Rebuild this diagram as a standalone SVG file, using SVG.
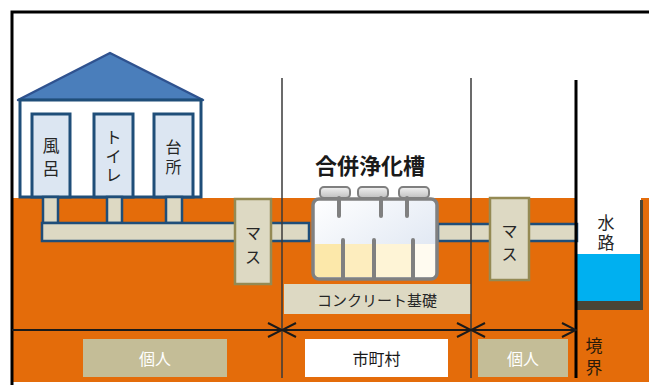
<svg xmlns="http://www.w3.org/2000/svg" width="649" height="385" viewBox="0 0 649 385">
  <defs>
    <style>
      .t { font-family: "Noto Sans CJK JP", "Noto Sans", sans-serif; text-anchor: middle; dominant-baseline: central; }
      .room { fill: #DCE6F2; stroke: #1F4E79; stroke-width: 3; }
      .pipe { fill: #DDD9C3; stroke: #1F4E79; stroke-width: 2.5; }
      .mass { fill: #DDD9C3; stroke: #948A54; stroke-width: 2.5; }
      .lid { fill: url(#lidGrad); stroke: #7F7F7F; stroke-width: 2; }
      .wall { fill: none; stroke: #808080; stroke-width: 4; stroke-linecap: round; }
      .div { stroke: #3A3A3A; stroke-width: 1.5; }
      .dim { stroke: #1A1A1A; stroke-width: 2; fill: none; }
      .tag { fill: #C4BD97; }
    </style>
    <linearGradient id="upperGrad" x1="0" y1="0" x2="1" y2="1">
      <stop offset="0" stop-color="#FFFFFF"/>
      <stop offset="1" stop-color="#D9E2F0"/>
    </linearGradient>
    <linearGradient id="lidGrad" x1="0" y1="0" x2="0" y2="1">
      <stop offset="0" stop-color="#F2F2F2"/>
      <stop offset="1" stop-color="#BFBFBF"/>
    </linearGradient>
    <marker id="arrow" markerUnits="userSpaceOnUse" viewBox="0 0 16 16" refX="15" refY="8" markerWidth="16" markerHeight="16" orient="auto-start-reverse">
      <path d="M1,1 L15,8 L1,15" fill="none" stroke="#1A1A1A" stroke-width="2"/>
    </marker>
  </defs>

  <rect width="649" height="385" fill="#FFFFFF"/>

  <!-- ground -->
  <rect id="ground" x="12" y="198" width="637" height="184" fill="#E46C0A"/>

  <!-- water channel -->
  <g id="channel">
    <rect x="577" y="197" width="64" height="58" fill="#FFFFFF"/>
    <rect x="577" y="254" width="64" height="48" fill="#00B0F0"/>
    <rect x="577" y="301" width="66" height="9" fill="#4A4535"/>
    <line x1="641.5" y1="200" x2="641.5" y2="310" stroke="#4A4535" stroke-width="3"/>
    <text class="t" x="606" y="221" font-size="17" fill="#262626">水</text>
    <text class="t" x="606" y="241" font-size="17" fill="#262626">路</text>
  </g>

  <!-- house -->
  <g id="house">
    <polygon points="18,100 110,53 203,100" fill="#4A7EBB" stroke="#2F528F" stroke-width="2.5" stroke-linejoin="round"/>
    <rect x="20" y="100" width="181" height="97" fill="#FFFFFF" stroke="#1F4E79" stroke-width="3"/>
  </g>
  <g id="bath">
    <rect class="room" x="32" y="114" width="38" height="83"/>
    <text class="t" x="51" y="144" font-size="17" fill="#262626">風</text>
    <text class="t" x="51" y="167" font-size="17" fill="#262626">呂</text>
  </g>
  <g id="toilet">
    <rect class="room" x="94" y="114" width="39" height="83"/>
    <text class="t" x="113.5" y="136" font-size="16" fill="#262626">ト</text>
    <text class="t" x="113.5" y="155" font-size="16" fill="#262626">イ</text>
    <text class="t" x="113.5" y="174" font-size="16" fill="#262626">レ</text>
  </g>
  <g id="kitchen">
    <rect class="room" x="154" y="114" width="39" height="83"/>
    <text class="t" x="173.5" y="146" font-size="16" fill="#262626">台</text>
    <text class="t" x="173.5" y="166" font-size="16" fill="#262626">所</text>
  </g>

  <!-- drain pipes -->
  <g id="pipes">
    <rect class="pipe" x="43" y="197" width="15" height="26"/>
    <rect class="pipe" x="107" y="197" width="15" height="26"/>
    <rect class="pipe" x="166" y="197" width="16" height="26"/>
    <rect class="pipe" x="42" y="223" width="267" height="18"/>
    <rect class="pipe" x="438" y="224" width="139" height="17"/>
  </g>

  <!-- inspection pits -->
  <g id="mass1">
    <rect class="mass" x="235" y="199" width="36" height="85"/>
    <text class="t" x="253" y="232" font-size="16" fill="#262626">マ</text>
    <text class="t" x="253" y="256" font-size="16" fill="#262626">ス</text>
  </g>
  <g id="mass2">
    <rect class="mass" x="490" y="198" width="39" height="82"/>
    <text class="t" x="509.5" y="230" font-size="16" fill="#262626">マ</text>
    <text class="t" x="509.5" y="253" font-size="16" fill="#262626">ス</text>
  </g>

  <!-- concrete foundation -->
  <g id="foundation">
    <rect x="284" y="284" width="187" height="30" fill="#DDD9C3"/>
    <text class="t" x="377" y="299" font-size="15" fill="#262626">コンクリート基礎</text>
  </g>

  <!-- septic tank -->
  <g id="tank">
    <text class="t" x="370" y="164" font-size="22" font-weight="bold" fill="#1A1A1A">合併浄化槽</text>
    <rect class="lid" x="320" y="187" width="30" height="11" rx="4"/>
    <rect class="lid" x="358" y="187" width="30" height="11" rx="4"/>
    <rect class="lid" x="399" y="187" width="30" height="11" rx="4"/>
    <rect x="313" y="199" width="124" height="80" rx="6" fill="url(#upperGrad)"/>
    <rect x="315" y="244" width="28" height="33" fill="#FCE8AA"/>
    <rect x="343" y="244" width="31" height="33" fill="#FDEDBE"/>
    <rect x="374" y="244" width="39" height="33" fill="#FEF4D6"/>
    <rect x="413" y="244" width="22" height="33" fill="#FFFBF0"/>
    <path class="wall" d="M339,198 V216 M381,198 V216 M407,198 V216"/>
    <path class="wall" d="M343,240 V278 M374,240 V278 M413,240 V278"/>
    <rect x="313" y="199" width="124" height="80" rx="6" fill="none" stroke="#808080" stroke-width="3.5"/>
  </g>

  <!-- frame -->
  <path id="frame" d="M12,385 V12 H649" fill="none" stroke="#000000" stroke-width="3"/>

  <!-- boundaries and dimension lines -->
  <g id="connectors">
    <line class="div" x1="282" y1="78" x2="282" y2="378"/>
    <line class="div" x1="471" y1="78" x2="471" y2="378"/>
    <line x1="576" y1="80" x2="576" y2="378" stroke="#000000" stroke-width="3"/>
    <line class="dim" x1="12" y1="330" x2="282" y2="330" marker-end="url(#arrow)"/>
    <line class="dim" x1="282" y1="330" x2="471" y2="330" marker-start="url(#arrow)" marker-end="url(#arrow)"/>
    <line class="dim" x1="471" y1="330" x2="576" y2="330" marker-start="url(#arrow)" marker-end="url(#arrow)"/>
  </g>

  <!-- ownership labels -->
  <g id="private1">
    <rect class="tag" x="83" y="339" width="144" height="38"/>
    <text class="t" x="155" y="358" font-size="16" fill="#FFFFFF">個人</text>
  </g>
  <g id="municipal">
    <rect x="305" y="339" width="143" height="38" fill="#FFFFFF"/>
    <text class="t" x="376.5" y="358" font-size="16" fill="#1A1A1A">市町村</text>
  </g>
  <g id="private2">
    <rect class="tag" x="478" y="339" width="90" height="38"/>
    <text class="t" x="523" y="358" font-size="16" fill="#FFFFFF">個人</text>
  </g>
  <g id="boundary">
    <text class="t" x="594" y="344" font-size="17" fill="#2A1A0A">境</text>
    <text class="t" x="594" y="366" font-size="17" fill="#2A1A0A">界</text>
  </g>
</svg>
